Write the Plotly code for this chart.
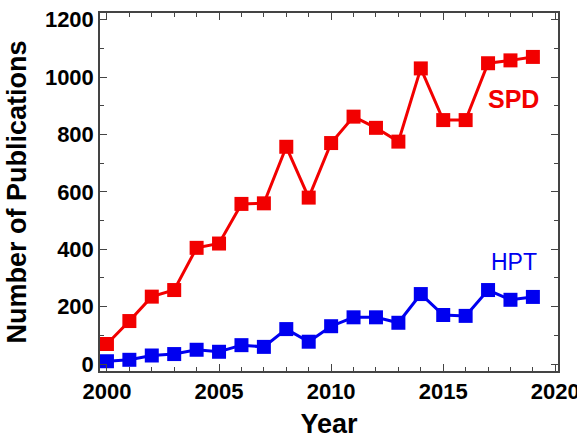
import plotly.graph_objects as go

years = list(range(2000, 2020))
spd = [70, 150, 235, 258, 405, 420, 558, 560, 757, 580, 770, 862, 823, 775, 1030, 850, 850, 1048, 1058, 1070]
hpt = [10, 15, 30, 35, 50, 43, 66, 60, 122, 78, 132, 163, 163, 144, 244, 171, 168, 258, 224, 234]

RED = "#f20000"
BLUE = "#0000f0"
FONT = "Liberation Sans, Arial, sans-serif"

fig = go.Figure()
fig.add_trace(go.Scatter(x=years, y=spd, mode="lines+markers", name="SPD",
                         line=dict(color=RED, width=3),
                         marker=dict(symbol="square", size=14, color=RED)))
fig.add_trace(go.Scatter(x=years, y=hpt, mode="lines+markers", name="HPT",
                         line=dict(color=BLUE, width=3),
                         marker=dict(symbol="square", size=14, color=BLUE)))

fig.add_annotation(x=2018.15, y=925, text="<b>SPD</b>", showarrow=False,
                   font=dict(family=FONT, size=25, color=RED))
fig.add_annotation(x=2018.15, y=355, text="HPT", showarrow=False,
                   font=dict(family=FONT, size=23, color=BLUE))

axis_common = dict(showline=True, linecolor="#444444", linewidth=1.5, mirror="ticks",
                   ticks="inside", ticklen=7, tickwidth=1.2, tickcolor="#444444",
                   showgrid=False, zeroline=False, automargin=False,
                   ticklabeloverflow="allow",
                   tickfont=dict(family=FONT, size=22, color="black"))

fig.update_xaxes(range=[1999.69, 2020.12], tickvals=[2000, 2005, 2010, 2015, 2020],
                 ticktext=["<b>2000</b>", "<b>2005</b>", "<b>2010</b>", "<b>2015</b>", "<b>2020</b>"],
                 minor=dict(dtick=1, tick0=2000, ticks="inside", ticklen=4, tickcolor="#444444"),
                 title=dict(text="<b>Year</b>", font=dict(family=FONT, size=27, color="black"), standoff=12),
                 **axis_common)
fig.update_yaxes(range=[-24, 1223], tickvals=[0, 200, 400, 600, 800, 1000, 1200],
                 ticktext=["<b>0</b>", "<b>200</b>", "<b>400</b>", "<b>600</b>", "<b>800</b>", "<b>1000</b>", "<b>1200</b>"],
                 minor=dict(dtick=100, tick0=0, ticks="inside", ticklen=4, tickcolor="#444444"),
                 title=dict(text="<b>Number of Publications</b>", font=dict(family=FONT, size=27, color="black"), standoff=10),
                 **axis_common)

fig.update_layout(width=577, height=439, margin=dict(l=100, r=19, t=13, b=68),
                  plot_bgcolor="white", paper_bgcolor="white", showlegend=False)

fig.write_html("out.html", config={"displayModeBar": False},
               post_script="document.body.style.margin='0';document.body.style.overflow='hidden';")
